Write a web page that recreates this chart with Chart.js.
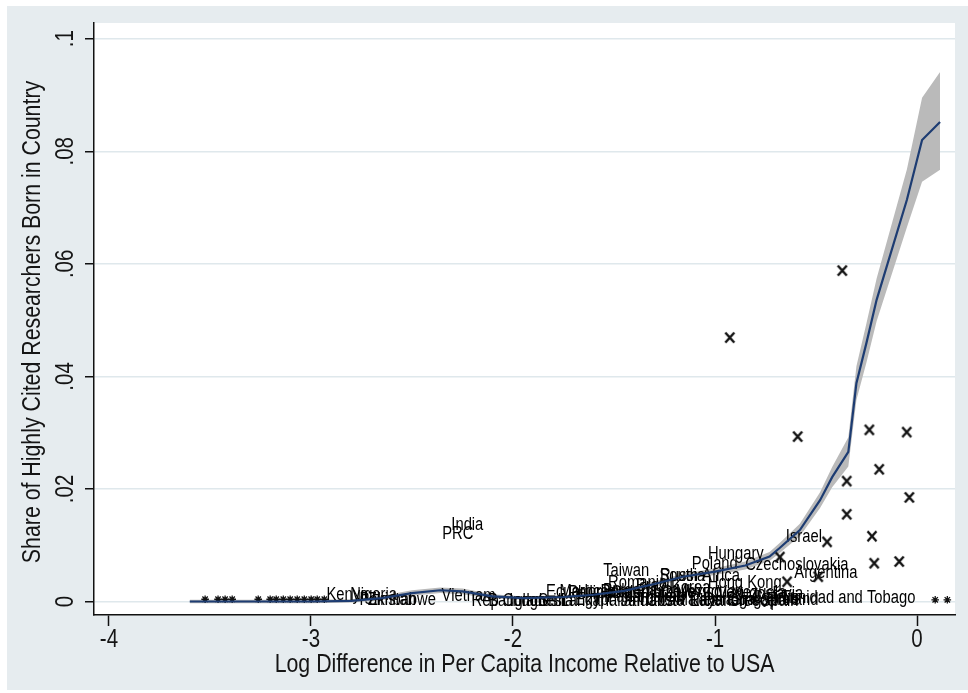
<!DOCTYPE html>
<html>
<head>
<meta charset="utf-8">
<script src="https://cdn.jsdelivr.net/npm/chart.js@4.4.1/dist/chart.umd.min.js"></script>
<style>
  html, body { margin: 0; padding: 0; background: #ffffff; }
  canvas { display: block; }
</style>
</head>
<body>
<canvas id="c" width="968" height="693"></canvas>
<script>
// Axis ticks and titles
const xTickVals = [-4, -3, -2, -1, 0];
const xTickLabels = ['-4', '-3', '-2', '-1', '0'];
const yTickVals = [0, 0.02, 0.04, 0.06, 0.08, 0.1];
const yTickLabels = ['0', '.02', '.04', '.06', '.08', '.1'];
const xTitle = 'Log Difference in Per Capita Income Relative to USA';
const yTitle = 'Share of Highly Cited Researchers Born in Country';

// Local polynomial fit with 95% band
const fitX  = [-3.60, -3.30, -3.00, -2.80, -2.65, -2.50, -2.36, -2.25, -2.10, -1.95, -1.75, -1.60, -1.45, -1.30, -1.16, -1.00, -0.85, -0.73, -0.68, -0.58, -0.48, -0.42, -0.34, -0.30, -0.25, -0.20, -0.05, 0.025, 0.114];
const fitY  = [0.0000, 0.0000, 0.0000, 0.0001, 0.0006, 0.0015, 0.0020, 0.0018, 0.0009, 0.0006, 0.0008, 0.0012, 0.0019, 0.0031, 0.0044, 0.0053, 0.0064, 0.0080, 0.0095, 0.0127, 0.0180, 0.0221, 0.0266, 0.0388, 0.0460, 0.0536, 0.0714, 0.0820, 0.0852];
const fitLo = [-0.0003, -0.0003, -0.0003, -0.0002, 0.0002, 0.0010, 0.0015, 0.0013, 0.0005, 0.0003, 0.0005, 0.0009, 0.0015, 0.0026, 0.0039, 0.0047, 0.0057, 0.0072, 0.0086, 0.0116, 0.0166, 0.0203, 0.0240, 0.0358, 0.0425, 0.0498, 0.0665, 0.0746, 0.0767];
const fitHi = [0.0003, 0.0003, 0.0003, 0.0004, 0.0010, 0.0020, 0.0025, 0.0023, 0.0013, 0.0009, 0.0011, 0.0015, 0.0023, 0.0036, 0.0049, 0.0059, 0.0071, 0.0088, 0.0104, 0.0138, 0.0194, 0.0239, 0.0292, 0.0418, 0.0495, 0.0574, 0.0768, 0.0895, 0.0941];

// Countries shown by name
const countryNames = ['India', 'PRC', 'Kenya', 'Nigeria', 'Pakistan', 'Zimbabwe', 'Vietnam', 'Rep Congo', 'Indonesia',
  'Ecuador', 'Morocco', 'Sri Lanka', 'Egypt', 'Philippines', 'Peru', 'Thailand', 'Bulgaria', 'Colombia', 'Jamaica',
  'Tunisia', 'Turkey', 'Romania', 'Brazil', 'Korea', 'Chile', 'Costa Rica', 'Mexico', 'Malaysia', 'Uruguay', 'Lebanon',
  'Taiwan', 'South Africa', 'Russia', 'Poland', 'Hungary', 'Hong Kong', 'Venezuela', 'Portugal', 'Greece', 'Singapore',
  'Spain', 'Ireland', 'Czechoslovakia', 'Argentina', 'Israel', 'Trinidad and Tobago',
  'Iran', 'Panama', 'Yugoslavia', 'Cyprus', 'Bangladesh'];
const countryX = [-2.226, -2.273, -2.82, -2.69, -2.62, -2.55, -2.22, -2.02, -1.86,
  -1.70, -1.63, -1.72, -1.60, -1.55, -1.49, -1.47, -1.42, -1.36, -1.33,
  -1.27, -1.24, -1.383, -1.30, -1.12, -1.18, -1.16, -1.08, -1.05, -1.00, -0.98,
  -1.440, -1.076, -1.160, -1.001, -0.897, -0.853, -0.818, -0.92, -0.82, -0.75,
  -0.68, -0.60, -0.595, -0.451, -0.560, -0.34,
  -1.21, -1.40, -0.74, -0.70, -1.93];
const countryY = [0.0136, 0.0120, 0.0012, 0.0012, 0.0002, 0.0003, 0.0010, 0.0000, 0.0001,
  0.0016, 0.0016, 0.0000, 0.0002, 0.0015, 0.0017, 0.0001, 0.0018, 0.0015, 0.0001,
  0.0002, 0.0017, 0.0033, 0.0028, 0.0024, 0.0015, 0.0001, 0.0017, 0.0002, 0.0016, 0.0001,
  0.0054, 0.0045, 0.0045, 0.0067, 0.0084, 0.0033, 0.0015, 0.0002, 0.0001, 0.0002,
  0.0001, 0.0002, 0.0065, 0.0051, 0.0115, 0.0007,
  0.0008, 0.0008, 0.0014, 0.0007, 0.0001];

// Countries marked with X
const crossX = [-0.370, -0.927, -0.591, -0.236, -0.051, -0.187, -0.348, -0.038, -0.348, -0.223, -0.445, -0.679, -0.212, -0.088, -0.643, -0.489];
const crossY = [0.0588, 0.0469, 0.0293, 0.0305, 0.0301, 0.0235, 0.0214, 0.0185, 0.0155, 0.0116, 0.0106, 0.0079, 0.0068, 0.0071, 0.0035, 0.0044];

// Countries marked with an asterisk
const starX = [-3.524, -3.460, -3.425, -3.390, -3.261, -3.202, -3.172, -3.137, -3.103, -3.068, -3.033, -2.999, -2.969, -2.934, 0.090, 0.150];
const starY = [0.0004, 0.0004, 0.0004, 0.0004, 0.0004, 0.0004, 0.0004, 0.0004, 0.0004, 0.0004, 0.0004, 0.0004, 0.0004, 0.0004, 0.0003, 0.0003];

// Narrow sans: Liberation Sans squeezed horizontally
const FACE = '"Liberation Sans", Arial, sans-serif';
const SQUEEZE = 0.82;
const TEXT = '#151515';
const NAVY = '#1d3c72';
const PANEL = '#e6ecef';
const GRID = '#dfe8ec';

const pts = (xs, ys) => xs.map((x, i) => ({ x: x, y: ys[i] }));

function narrowText(ctx, text, x, y, size, rotation, color) {
  ctx.save();
  ctx.font = size + 'px ' + FACE;
  ctx.fillStyle = color;
  ctx.textAlign = 'center';
  ctx.textBaseline = 'middle';
  ctx.translate(x, y);
  if (rotation) ctx.rotate(rotation);
  ctx.scale(SQUEEZE, 1);
  ctx.fillText(text, 0, 0);
  ctx.restore();
}

// X marker glyph used as a point style
function makeCross() {
  const c = document.createElement('canvas');
  c.width = 12; c.height = 13;
  const g = c.getContext('2d');
  g.strokeStyle = '#111';
  g.lineWidth = 2.4;
  g.beginPath();
  g.moveTo(1.5, 1.5); g.lineTo(10.5, 11.5);
  g.moveTo(10.5, 1.5); g.lineTo(1.5, 11.5);
  g.stroke();
  return c;
}

const backdrop = {
  id: 'backdrop',
  beforeDraw(chart) {
    const { ctx, chartArea: a } = chart;
    ctx.save();
    ctx.fillStyle = '#ffffff';
    ctx.fillRect(0, 0, chart.width, chart.height);
    ctx.fillStyle = PANEL;
    ctx.fillRect(7, 6, chart.width - 7, 684);
    ctx.fillStyle = '#ffffff';
    ctx.fillRect(a.left, a.top, a.right - a.left, a.bottom - a.top);
    ctx.restore();
  }
};

const countryText = {
  id: 'countryText',
  afterDatasetDraw(chart, args) {
    if (chart.data.datasets[args.index].label !== 'countries') return;
    args.meta.data.forEach((el, i) => {
      narrowText(chart.ctx, countryNames[i], el.x, el.y, 18, 0, '#000000');
    });
  }
};

const axisText = {
  id: 'axisText',
  afterDraw(chart) {
    const { ctx, scales: { x, y }, chartArea: a } = chart;
    xTickVals.forEach((v, i) => {
      narrowText(ctx, xTickLabels[i], x.getPixelForValue(v), 640, 25, 0, TEXT);
    });
    yTickVals.forEach((v, i) => {
      narrowText(ctx, yTickLabels[i], 66, y.getPixelForValue(v), 25, -Math.PI / 2, TEXT);
    });
    narrowText(ctx, xTitle, (a.left + a.right) / 2, 665, 26, 0, TEXT);
    narrowText(ctx, yTitle, 33, (a.top + a.bottom) / 2 + 3, 26, -Math.PI / 2, TEXT);
  }
};

new Chart(document.getElementById('c'), {
  type: 'scatter',
  data: {
    datasets: [
      { label: 'upper', type: 'line', data: pts(fitX, fitHi), borderWidth: 0, borderColor: 'rgba(0,0,0,0)', pointRadius: 0, fill: false, order: 6 },
      { label: 'lower', type: 'line', data: pts(fitX, fitLo), borderWidth: 0, borderColor: 'rgba(0,0,0,0)', pointRadius: 0, fill: '-1', backgroundColor: '#bababa', order: 5 },
      { label: 'countries', data: pts(countryX, countryY), pointRadius: 0, order: 4 },
      { label: 'asterisk', data: pts(starX, starY), pointStyle: 'star', radius: 3.8, borderWidth: 1.3, borderColor: '#111', backgroundColor: '#111', order: 3 },
      { label: 'cross', data: pts(crossX, crossY), pointStyle: makeCross(), radius: 6, order: 2 },
      { label: 'fit', type: 'line', data: pts(fitX, fitY), borderColor: NAVY, borderWidth: 2.2, pointRadius: 0, fill: false, tension: 0, order: 1 }
    ]
  },
  options: {
    responsive: false,
    animation: false,
    events: [],
    layout: { padding: { left: 0, top: 23, right: 13, bottom: 0 } },
    plugins: { legend: { display: false }, tooltip: { enabled: false } },
    scales: {
      x: {
        type: 'linear',
        min: -4.074,
        max: 0.188,
        afterBuildTicks: s => { s.ticks = xTickVals.map(v => ({ value: v })); },
        afterFit: s => { s.height = 78; },
        grid: { drawOnChartArea: false, drawTicks: true, tickLength: 11, tickColor: '#111', tickWidth: 1.5 },
        border: { display: true, color: '#111', width: 1.5 },
        ticks: { display: false }
      },
      y: {
        type: 'linear',
        min: -0.0024,
        max: 0.1028,
        afterBuildTicks: s => { s.ticks = yTickVals.map(v => ({ value: v })); },
        afterFit: s => { s.width = 94; },
        grid: { drawOnChartArea: true, color: GRID, lineWidth: 1.5, drawTicks: true, tickLength: 9, tickColor: '#111', tickWidth: 1.5 },
        border: { display: true, color: '#111', width: 1.5 },
        ticks: { display: false }
      }
    }
  },
  plugins: [backdrop, countryText, axisText]
});
</script>
</body>
</html>
